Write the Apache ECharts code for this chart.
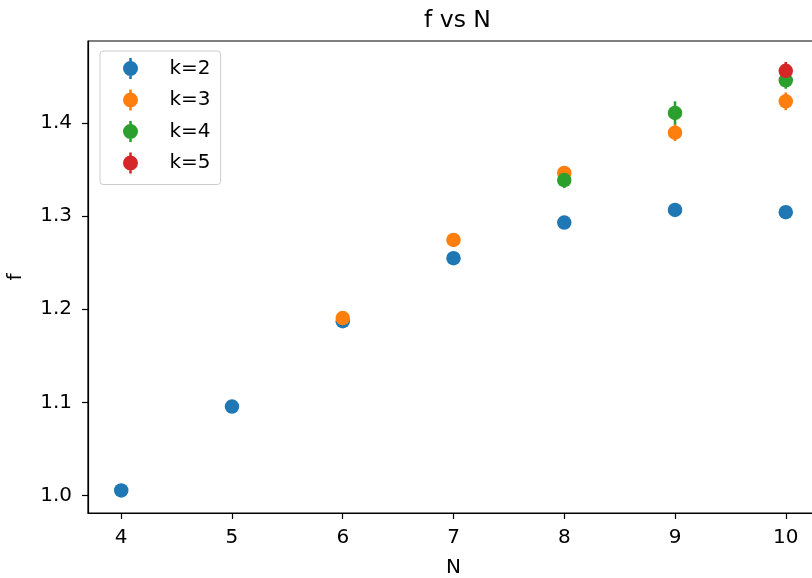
<!DOCTYPE html>
<html>
<head>
<meta charset="utf-8">
<script src="https://cdn.jsdelivr.net/npm/echarts@6/dist/echarts.min.js"></script>
<style>html,body{margin:0;padding:0;background:#fff}#c{width:812px;height:578px}</style>
</head>
<body>
<div id="c"></div>
<script>
// ---- data ----
const seriesNames = ['k=2', 'k=3', 'k=4', 'k=5'];
const nK2 = [4, 5, 6, 7, 8, 9, 10];
const fK2 = [1.0057, 1.0957, 1.1872, 1.2548, 1.2930, 1.3065, 1.3041];
const eK2 = [0.001, 0.001, 0.0015, 0.002, 0.002, 0.002, 0.002];
const nK3 = [6, 7, 8, 9, 10];
const fK3 = [1.1905, 1.2744, 1.3462, 1.3894, 1.4230];
const eK3 = [0.003, 0.004, 0.0075, 0.009, 0.0095];
const nK4 = [8, 9, 10];
const fK4 = [1.3385, 1.4105, 1.4455];
const eK4 = [0.0085, 0.0125, 0.009];
const nK5 = [10];
const fK5 = [1.4557];
const eK5 = [0.0095];
const xTicks = [4, 5, 6, 7, 8, 9, 10];
const yTicks = [1.0, 1.1, 1.2, 1.3, 1.4];

const colors = ['#1f77b4', '#ff7f0e', '#2ca02c', '#d62728'];
const groups = [[nK2, fK2, eK2], [nK3, fK3, eK3], [nK4, fK4, eK4], [nK5, fK5, eK5]];
const FONT = 'DejaVu Sans';
const FS = 20;

const series = [];
groups.forEach((g, i) => {
  const data = g[0].map((n, j) => [n, g[1][j], g[2][j]]);
  series.push({
    type: 'custom',
    name: seriesNames[i] + ' err',
    data: data,
    encode: { x: 0, y: 1 },
    silent: true,
    renderItem: function (params, api) {
      const x = api.value(0), y = api.value(1), e = api.value(2);
      const p1 = api.coord([x, y - e]);
      const p2 = api.coord([x, y + e]);
      return { type: 'line', shape: { x1: p1[0], y1: p1[1], x2: p2[0], y2: p2[1] },
               style: { stroke: colors[i], lineWidth: 2.6 } };
    }
  });
  series.push({
    type: 'scatter',
    name: seriesNames[i],
    data: data.map(d => [d[0], d[1]]),
    symbol: 'circle',
    symbolSize: 14.5,
    itemStyle: { color: colors[i], opacity: 1 },
    emphasis: { disabled: true }
  });
});

const iconPath = 'path://M-1.3,-10.5H1.3V10.5H-1.3Z M7.5,0A7.5,7.5,0,1,1,-7.5,0A7.5,7.5,0,1,1,7.5,0Z';

const chart = echarts.init(document.getElementById('c'), null, { renderer: 'canvas' });
chart.setOption({
  animation: false,
  backgroundColor: '#fff',
  textStyle: { fontFamily: FONT },
  title: {
    text: 'f vs N', left: 419, top: 4,
    textStyle: { fontFamily: FONT, fontSize: 23.5, fontWeight: 'normal', color: '#000' }
  },
  grid: { left: 88, top: 41, right: -7, bottom: 65, show: true, borderColor: '#000', borderWidth: 1.2,
          containLabel: false, outerBoundsMode: 'none' },
  legend: {
    orient: 'vertical', left: 100, top: 51,
    data: seriesNames.map((n, i) => ({ name: n, icon: iconPath, itemStyle: { color: colors[i] } })),
    itemWidth: 15, itemHeight: 21, itemGap: 10.5,
    padding: [7, 10, 11, 23],
    borderColor: '#cccccc', borderWidth: 1, borderRadius: 3, backgroundColor: '#fff',
    textStyle: { fontFamily: FONT, fontSize: FS, color: '#000', padding: [0, 0, 0, 26.5] },
    selectedMode: false
  },
  xAxis: {
    type: 'value', min: 3.7, max: 10.3,
    name: 'N', nameLocation: 'middle', nameGap: 45,
    nameTextStyle: { fontFamily: FONT, fontSize: FS, color: '#000' },
    axisLine: { show: true, onZero: false, lineStyle: { color: '#000', width: 1.2 } },
    axisTick: { show: true, length: 6, customValues: xTicks, lineStyle: { color: '#000', width: 1.2 } },
    axisLabel: { customValues: xTicks, margin: 15, fontFamily: FONT, fontSize: FS, color: '#000',
                 formatter: v => String(Math.round(v)) },
    splitLine: { show: false }
  },
  yAxis: {
    type: 'value', min: 0.9815, max: 1.4877,
    name: 'f', nameLocation: 'middle', nameGap: 62, nameRotate: 90,
    nameTextStyle: { fontFamily: FONT, fontSize: FS, color: '#000' },
    axisLine: { show: true, onZero: false, lineStyle: { color: '#000', width: 1.2 } },
    axisTick: { show: true, length: 6, customValues: yTicks, lineStyle: { color: '#000', width: 1.2 } },
    axisLabel: { customValues: yTicks, margin: 16, fontFamily: FONT, fontSize: FS, color: '#000',
                 formatter: v => v.toFixed(1) },
    splitLine: { show: false }
  },
  series: series
});
</script>
</body>
</html>
